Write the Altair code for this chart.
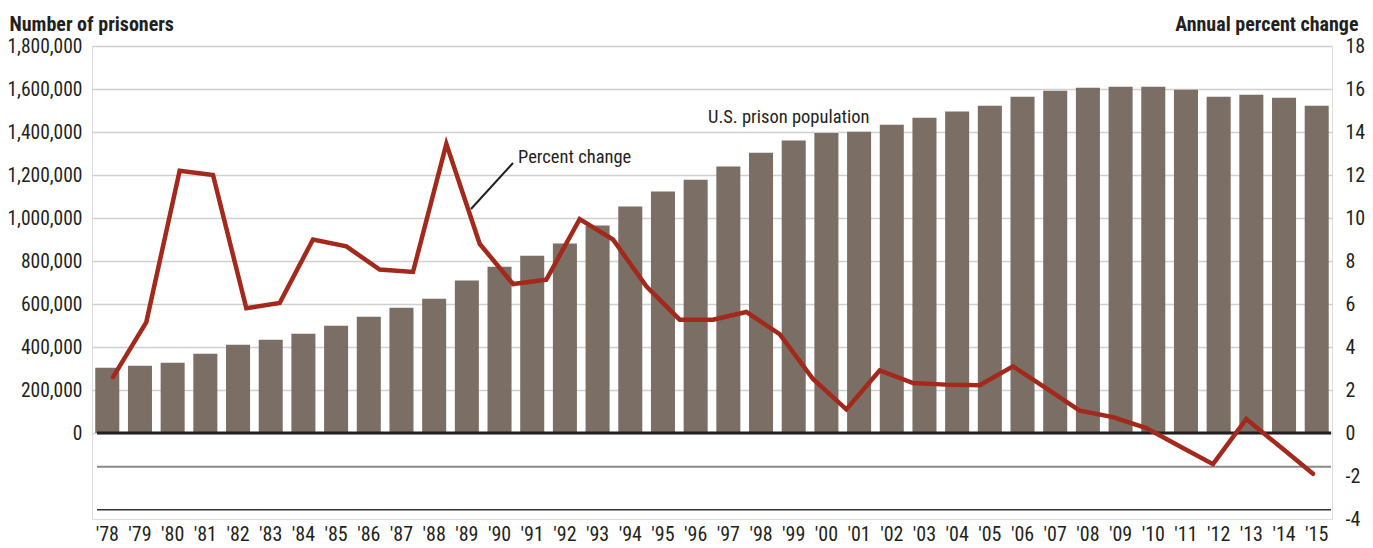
import altair as alt
import pandas as pd

# ---- data ----
year_labels = ["'78", "'79", "'80", "'81", "'82", "'83", "'84", "'85", "'86", "'87",
               "'88", "'89", "'90", "'91", "'92", "'93", "'94", "'95", "'96", "'97",
               "'98", "'99", "'00", "'01", "'02", "'03", "'04", "'05", "'06", "'07",
               "'08", "'09", "'10", "'11", "'12", "'13", "'14", "'15"]

prisoners = [304000, 313000, 327000, 369000, 411000, 434000, 462000, 499000, 541000, 583000,
             625000, 709000, 773000, 825000, 881000, 965000, 1053000, 1123000, 1178000, 1239000,
             1304000, 1360000, 1395000, 1401000, 1434000, 1466000, 1495000, 1522000, 1564000, 1592000,
             1606000, 1611000, 1611000, 1597000, 1564000, 1573000, 1559000, 1522000]

# annual percent change (37 points drawn across the span of the bars)
pct_change = [2.6, 5.16, 12.2, 12.0, 5.8, 6.05, 9.0, 8.68, 7.6, 7.49,
              13.45, 8.8, 6.93, 7.13, 9.95, 9.0, 6.82, 5.27, 5.27, 5.63,
              4.6, 2.51, 1.1, 2.91, 2.32, 2.25, 2.22, 3.1, 2.07, 1.04,
              0.74, 0.23, -0.62, -1.45, 0.65, -0.62, -1.9]

left_ticks = [0, 200000, 400000, 600000, 800000, 1000000, 1200000, 1400000, 1600000, 1800000]
right_ticks = [-4, -2, 0, 2, 4, 6, 8, 10, 12, 14, 16, 18]

FONT = "Liberation Sans Narrow, Roboto Condensed, DejaVu Sans Condensed, sans-serif"
TXT = "#231f20"
BAR = "#7b6e64"
RED = "#a3291c"
W, H = 1240, 473

bars_df = pd.DataFrame({"year": year_labels, "pop": prisoners})
line_df = pd.DataFrame({"idx": list(range(len(pct_change))), "pct": pct_change})

left_scale = alt.Scale(domain=[-400000, 1800000], nice=False, zero=False)

bars = alt.Chart(bars_df).mark_bar(color=BAR).encode(
    x=alt.X("year:N", sort=None,
            scale=alt.Scale(paddingInner=0.265, paddingOuter=0.1),
            axis=alt.Axis(title=None, labelAngle=0, domain=False, ticks=False,
                          labelFontSize=20, labelFont=FONT, labelColor=TXT,
                          labelPadding=5)),
    y=alt.Y("pop:Q", scale=left_scale,
            axis=alt.Axis(values=left_ticks, format=",d", title="Number of prisoners",
                          titleAngle=0, titleX=-83, titleY=-16, titleAlign="left",
                          titleBaseline="alphabetic", titleFont=FONT, titleFontSize=20,
                          titleFontWeight="bold", titleColor=TXT,
                          labelFont=FONT, labelFontSize=19.5, labelColor=TXT,
                          labelPadding=10, domain=False, ticks=False,
                          grid=True, gridColor="#d0d0d0", gridWidth=1.5)),
)

def hrule(v, color, width):
    return alt.Chart(pd.DataFrame({"v": [v]})).mark_rule(color=color, strokeWidth=width).encode(
        y=alt.Y("v:Q", scale=left_scale),
        x=alt.value(5), x2=alt.value(W - 1),
    )

zero_rule = hrule(0, "#231f20", 3)
gray_rule = hrule(-157000, "#8a8a8a", 2)
black_rule = hrule(-357000, "#333333", 1.5)

left_group = alt.layer(bars, gray_rule, black_rule, zero_rule)

line = alt.Chart(line_df).mark_line(color=RED, strokeWidth=4.5, strokeJoin="miter",
                                    strokeCap="round").encode(
    x=alt.X("idx:Q", scale=alt.Scale(domain=[-0.63, 36.57], nice=False, zero=False), axis=None),
    y=alt.Y("pct:Q", scale=alt.Scale(domain=[-4, 18], nice=False, zero=False),
            axis=alt.Axis(orient="right", values=right_ticks, labelExpr="'' + datum.value",
                          title="Annual percent change", titleAngle=0, titleX=26, titleY=-16,
                          titleAlign="right", titleBaseline="alphabetic", titleFont=FONT,
                          titleFontSize=20, titleFontWeight="bold", titleColor=TXT,
                          labelFont=FONT, labelFontSize=20, labelColor=TXT,
                          labelPadding=13, domain=False, ticks=False, grid=False)),
)

leader = alt.Chart(pd.DataFrame({"k": [1]})).mark_rule(color="#231f20", strokeWidth=2).encode(
    x=alt.value(421), y=alt.value(117), x2=alt.value(379), y2=alt.value(163))

txt1 = alt.Chart(pd.DataFrame({"t": ["Percent change"]})).mark_text(
    font=FONT, fontSize=18.5, color=TXT, align="left", baseline="middle").encode(
    text="t:N", x=alt.value(426), y=alt.value(111))

txt2 = alt.Chart(pd.DataFrame({"t": ["U.S. prison population"]})).mark_text(
    font=FONT, fontSize=18.5, color=TXT, align="left", baseline="middle").encode(
    text="t:N", x=alt.value(616), y=alt.value(71))

chart = alt.layer(left_group, line, leader, txt1, txt2).resolve_scale(
    x="independent", y="independent"
).properties(
    width=W, height=H,
    autosize=alt.AutoSizeParams(type="none"),
    padding={"left": 84, "top": 38, "right": 33, "bottom": 29},
).configure_view(stroke=None).configure(background="white")

chart.save("out.html", embed_options={"renderer": "svg", "actions": False})
